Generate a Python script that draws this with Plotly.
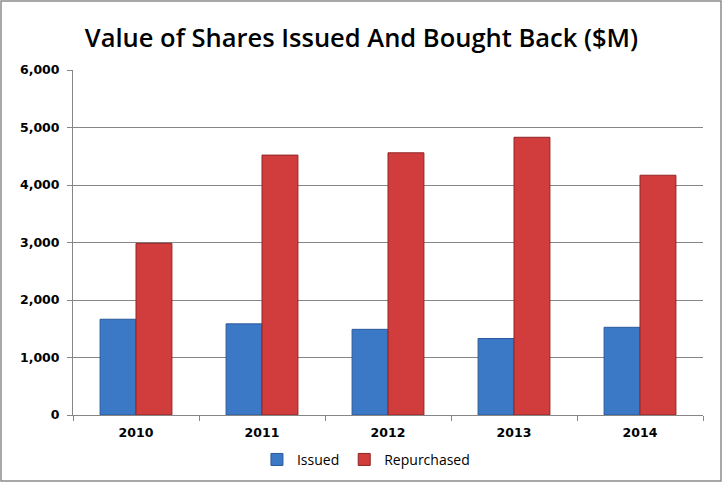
"""Value of shares issued and bought back, 2010-2014 ($M)."""

import plotly.graph_objects as go

YEARS = ["2010", "2011", "2012", "2013", "2014"]
ISSUED = [1665, 1585, 1490, 1330, 1525]
REPURCHASED = [2985, 4520, 4560, 4830, 4170]

GRID = "#868686"
TICK_FONT = dict(family="DejaVu Sans", size=12.5, color="#000000", weight="bold")


def main() -> None:
    fig = go.Figure()
    fig.add_trace(
        go.Bar(
            x=YEARS,
            y=ISSUED,
            name="Issued",
            marker=dict(color="#3b78c6", line=dict(color="#2a5a9a", width=1)),
        )
    )
    fig.add_trace(
        go.Bar(
            x=YEARS,
            y=REPURCHASED,
            name="Repurchased",
            marker=dict(color="#d03d3c", line=dict(color="#8f2624", width=1)),
        )
    )

    fig.update_layout(
        width=723,
        height=483,
        barmode="group",
        bargap=0.43,
        bargroupgap=0,
        plot_bgcolor="white",
        paper_bgcolor="white",
        margin=dict(l=73, r=20, t=70, b=68, autoexpand=False),
        title=dict(
            text="Value of Shares Issued And Bought Back ($M)",
            x=0.5,
            xanchor="center",
            y=1 - 38 / 483,
            yanchor="middle",
            font=dict(family="Open Sans", size=25.5, color="#000000", weight=600),
        ),
        legend=dict(
            orientation="h",
            x=0.465,
            xanchor="center",
            y=-0.13,
            yanchor="middle",
            font=dict(family="Open Sans", size=14, color="#000000"),
            itemwidth=30,
            tracegroupgap=0,
        ),
        showlegend=True,
    )
    fig.update_yaxes(
        range=[0, 6000],
        dtick=1000,
        tickformat=",d",
        showgrid=True,
        gridcolor=GRID,
        gridwidth=1,
        showline=True,
        linecolor=GRID,
        ticks="outside",
        ticklen=5,
        tickcolor=GRID,
        tickfont=TICK_FONT,
        ticklabelstandoff=5,
        zeroline=False,
    )
    fig.update_xaxes(
        showline=True,
        linecolor=GRID,
        ticks="outside",
        tickson="boundaries",
        ticklen=5,
        tickcolor=GRID,
        tickfont=TICK_FONT,
        ticklabelstandoff=6,
    )
    # thin grey frame round the whole chart
    fig.add_shape(
        type="rect",
        xref="paper",
        yref="paper",
        x0=-72 / 630,
        x1=648 / 630,
        y0=-66 / 345,
        y1=414 / 345,
        line=dict(color="#8c8c8c", width=1.5),
        layer="below",
    )
    # the page's default body margin would shift the chart by 8px
    fig.write_html(
        "out.html",
        config={"displayModeBar": False},
        post_script="document.body.style.margin = '0';",
    )


if __name__ == "__main__":
    main()
